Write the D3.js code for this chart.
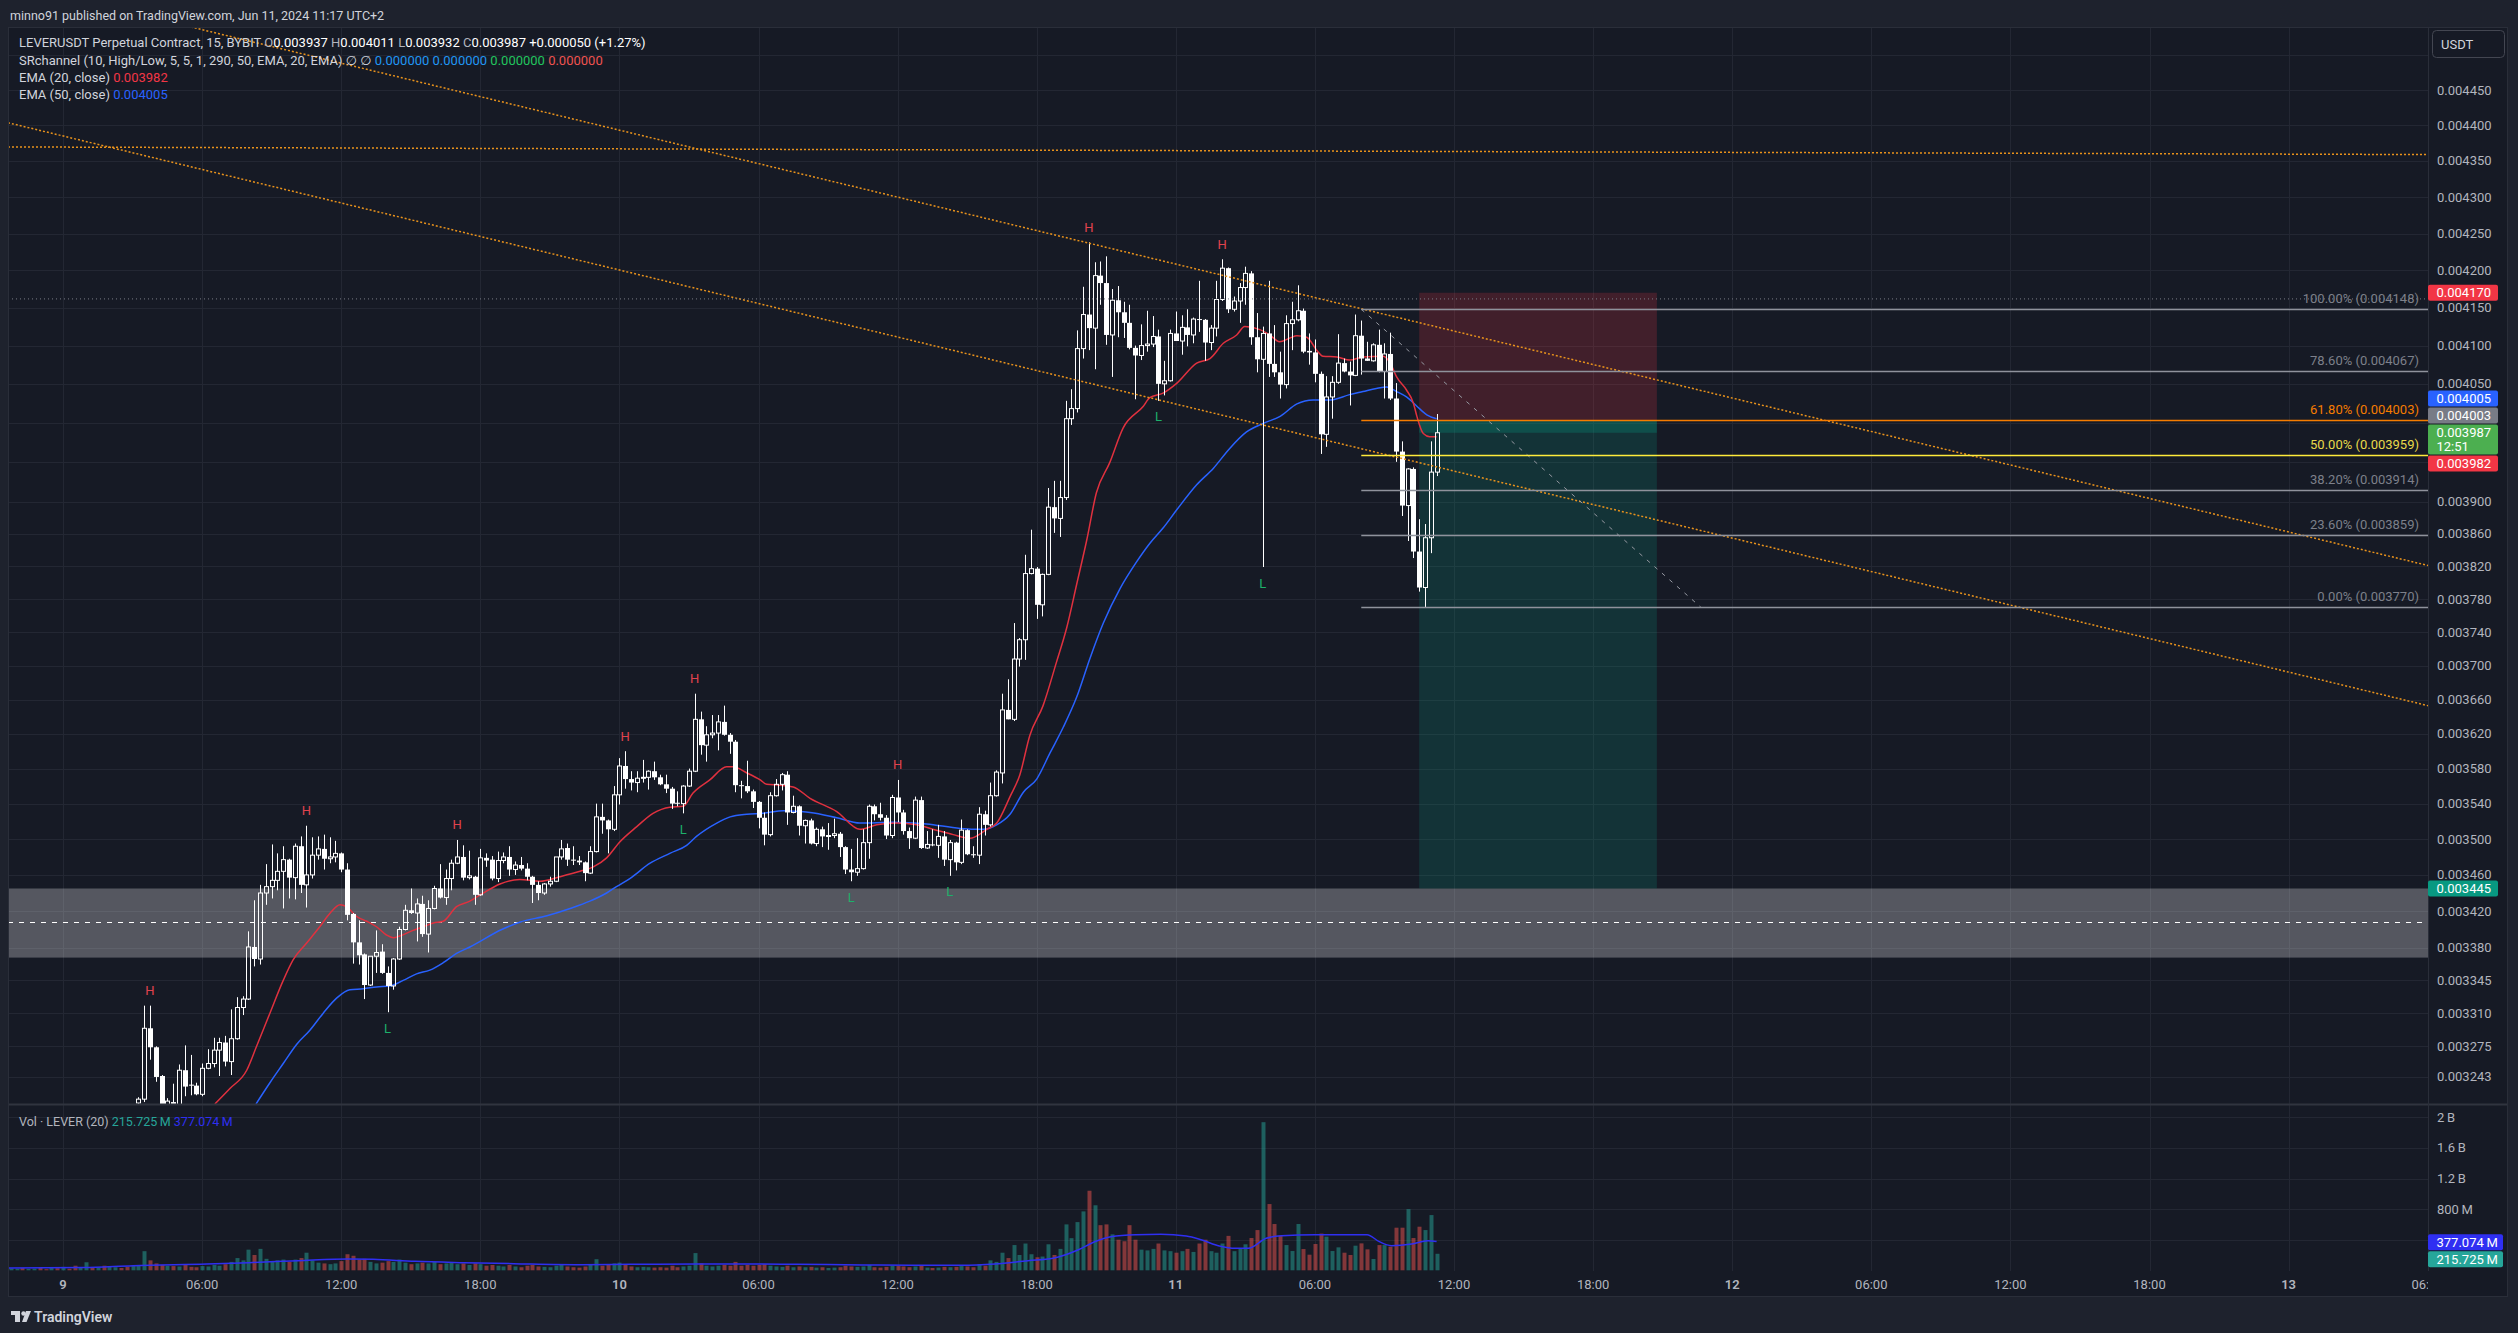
<!DOCTYPE html>
<html>
<head>
<meta charset="utf-8">
<script src="https://cdn.jsdelivr.net/npm/d3@7/dist/d3.min.js"></script>
<style>
html,body{margin:0;padding:0;background:#1e222d;overflow:hidden;}
svg{display:block;}
text{font-family:Roboto,"Noto Sans","DejaVu Sans",sans-serif;}
</style>
</head>
<body>
<svg id="chart" width="2518" height="1333"></svg>
<script>
// ---------------- DATA ----------------
const PRICE_UNIT = 1e-6;          // prices below are in millionths of USDT
const firstCandleBar = 13;        // bar index (15-min bars counted from Jun 9 00:00 axis time)
const opens = [3216,3220,3294,3274,3244,3214,3217,3214,3250,3235,3234,3225,3252,3257,3271,3279,3259,3283,3316,3325,
3381,3368,3440,3447,3454,3464,3477,3457,3492,3449,3460,3482,3489,3478,3480,3484,3466,3417,3386,3373,
3340,3371,3376,3353,3339,3368,3400,3421,3418,3428,3395,3423,3445,3435,3456,3473,3480,3457,3458,3438,
3479,3477,3456,3476,3480,3466,3471,3467,3458,3449,3440,3450,3453,3480,3490,3477,3476,3474,3462,3486,
3525,3521,3511,3550,3583,3568,3564,3569,3570,3577,3570,3562,3557,3541,3540,3560,3577,3637,3607,3619,
3621,3634,3619,3611,3561,3560,3554,3542,3524,3505,3549,3562,3573,3530,3537,3515,3521,3495,3511,3503,
3504,3506,3491,3466,3463,3467,3496,3537,3528,3524,3504,3547,3530,3509,3501,3544,3490,3494,3493,3503,
3477,3496,3474,3510,3483,3482,3528,3516,3549,3575,3648,3637,3708,3731,3811,3817,3773,3810,3893,3879,
3905,4005,4018,4096,4141,4123,4193,4183,4114,4160,4144,4130,4097,4087,4100,4102,4112,4050,4054,4116,
4106,4124,4114,4135,4134,4104,4123,4161,4203,4148,4159,4177,4196,4111,4082,4116,4076,4065,4049,4129,
4134,4146,4093,4091,4063,3985,4033,4052,4077,4066,4061,4113,4083,4080,4101,4066,4089,4031,3963,3895,
3941,3838,3794,3855,3937];
const highs = [3222,3318,3318,3275,3245,3221,3236,3256,3276,3266,3237,3257,3272,3284,3284,3286,3314,3327,3328,3398,
3432,3449,3472,3494,3484,3492,3478,3495,3503,3515,3502,3503,3505,3502,3498,3485,3473,3418,3410,3374,
3371,3399,3384,3360,3369,3403,3427,3445,3434,3437,3432,3448,3472,3466,3477,3499,3493,3487,3459,3489,
3484,3481,3486,3485,3492,3475,3480,3473,3459,3453,3451,3458,3480,3499,3495,3492,3481,3475,3492,3540,
3540,3522,3560,3592,3600,3577,3577,3590,3578,3588,3573,3573,3559,3554,3561,3580,3667,3646,3629,3642,
3642,3653,3621,3613,3566,3589,3556,3543,3530,3553,3568,3575,3577,3549,3538,3522,3523,3513,3514,3518,
3523,3508,3492,3489,3501,3511,3539,3539,3541,3527,3550,3567,3533,3513,3548,3548,3509,3511,3516,3509,
3499,3497,3522,3511,3492,3536,3532,3564,3578,3667,3684,3751,3733,3834,3865,3819,3811,3917,3926,3926,
4028,4043,4120,4178,4238,4211,4212,4219,4175,4179,4158,4154,4100,4128,4146,4139,4121,4080,4121,4145,
4140,4148,4137,4186,4135,4127,4186,4215,4204,4165,4183,4205,4199,4143,4125,4186,4127,4092,4140,4158,
4180,4149,4116,4108,4066,4060,4060,4115,4083,4079,4141,4133,4105,4103,4121,4103,4117,4051,3976,3942,
3943,3878,3872,3976,4011];
const lows = [3212,3217,3261,3238,3198,3208,3210,3208,3223,3224,3224,3223,3251,3253,3244,3254,3245,3282,3308,3324,
3360,3362,3427,3434,3443,3423,3434,3433,3440,3424,3456,3477,3466,3473,3474,3463,3410,3363,3362,3325,
3339,3353,3352,3311,3335,3367,3399,3417,3387,3392,3375,3422,3434,3427,3443,3472,3454,3455,3427,3437,
3469,3454,3452,3473,3459,3460,3465,3454,3429,3432,3438,3447,3452,3477,3470,3471,3471,3453,3461,3485,
3506,3484,3509,3539,3557,3555,3553,3564,3556,3567,3561,3552,3534,3537,3529,3559,3576,3596,3588,3615,
3601,3618,3597,3553,3546,3552,3535,3512,3493,3503,3548,3555,3516,3529,3504,3495,3494,3492,3491,3488,
3501,3480,3461,3453,3459,3466,3478,3521,3521,3500,3501,3519,3505,3489,3500,3489,3489,3492,3479,3470,
3459,3465,3472,3482,3479,3472,3504,3514,3548,3563,3637,3635,3699,3707,3810,3756,3759,3809,3861,3856,
3902,3997,4013,4083,4094,4069,4154,4101,4059,4111,4110,4095,4030,4081,4092,4098,4028,4035,4053,4106,
4088,4099,4103,4118,4080,4094,4112,4159,4143,4145,4130,4154,4101,4065,3819,4059,4059,4031,4044,4094,
4132,4090,4075,4052,3960,3969,4005,4050,4065,4022,4060,4062,4080,4079,4065,4031,4029,3950,3882,3851,
3830,3789,3770,3836,3932];
const closes = [3220,3294,3274,3243,3214,3218,3215,3250,3233,3234,3225,3252,3257,3271,3279,3259,3283,3316,3325,3381,
3368,3440,3447,3454,3464,3477,3457,3492,3449,3460,3482,3489,3478,3480,3484,3466,3416,3386,3372,3340,
3371,3375,3353,3339,3368,3400,3421,3418,3428,3395,3423,3445,3435,3456,3473,3480,3457,3459,3438,3479,
3476,3456,3476,3480,3466,3471,3467,3458,3449,3440,3450,3453,3480,3489,3477,3476,3474,3462,3486,3525,
3521,3511,3550,3583,3568,3564,3569,3570,3577,3570,3562,3557,3540,3540,3560,3577,3637,3607,3619,3621,
3634,3619,3611,3561,3560,3554,3542,3524,3505,3549,3562,3573,3530,3537,3515,3521,3495,3511,3503,3504,
3506,3491,3466,3463,3467,3496,3537,3528,3524,3504,3547,3530,3509,3501,3544,3490,3494,3493,3503,3477,
3496,3474,3510,3483,3482,3528,3516,3549,3576,3648,3637,3708,3731,3811,3817,3773,3810,3893,3879,3905,
4005,4018,4096,4141,4123,4193,4183,4114,4160,4144,4130,4097,4087,4100,4102,4112,4050,4054,4116,4106,
4124,4114,4135,4134,4104,4123,4161,4203,4148,4159,4177,4196,4111,4082,4116,4076,4065,4049,4129,4134,
4146,4092,4091,4063,3985,4033,4052,4077,4066,4061,4113,4083,4080,4101,4066,4089,4031,3963,3895,3941,
3838,3794,3855,3937,3987];

const firstVolumeBar = -9;
const volumesM = [25,20,30,18,22,30,15,35,28,45,20,60,30,105,40,35,60,55,40,30,45,60,
70,250,130,90,70,60,55,50,80,45,40,55,50,70,60,80,110,160,
130,270,200,280,150,120,130,140,110,140,160,230,130,100,90,80,90,120,210,190,
140,150,110,90,100,120,110,140,100,80,90,100,90,110,80,90,100,80,90,70,
90,80,60,70,60,50,70,50,40,60,70,50,45,40,60,70,50,40,35,50,
80,145,60,70,90,100,80,50,40,45,40,35,40,35,60,40,50,60,225,90,
60,50,60,70,60,110,60,70,60,70,80,60,50,45,60,40,50,40,45,35,
40,30,35,40,60,50,45,50,70,40,35,45,60,55,50,40,50,60,35,30,
35,45,40,45,55,50,40,80,60,130,110,230,160,330,200,350,210,170,180,340,
200,280,600,420,630,770,1040,850,590,600,470,400,380,590,400,270,260,280,350,260,
250,230,250,280,240,350,400,250,230,350,450,250,290,340,422,526,1936,866,605,452,
330,252,605,278,204,344,480,440,252,300,230,200,322,352,274,148,330,330,309,557,
557,800,422,570,526,722,216];
const earlyVolumeUp = [1,1,0,1,1,0,0,1,0,1,0,0,1,1,0,1,0,1,1,0,0,1];   // bars -9..12

const volMaBars = [-9.5,3.5,12.1,24.8,32.1,40.6,49.2,53.5,60.7,69.2,77.8,89.2,97.8,109.4,117.8,126.5,137.9,146.5,155.1,160.8,
166.5,170.8,175.1,178,180.8,185.1,189.4,193.8,196.5,199.5,202.3,204.5,207.6,210.3,216,221.5,225,227.1,229.2,232.7,235.5,237];
const volMaM = [30,35,61,83,100,126,148,143,117,100,87,74,78,83,83,78,70,65,65,83,
126,157,265,374,439,465,470,448,396,318,287,287,418,452,465,465,465,374,322,344,387,377];

const ema20Bars = [26.2,28.8,31.7,33.4,35.7,38.0,39.7,42.0,44.3,46.1,47.8,48.9,50.7,52.4,54.1,55.8,57.0,58.1,60.4,62.2,
63.9,65.6,67.9,70.2,72.5,75.4,78.8,82.3,85.7,89.2,91.5,93.8,96.1,99.0,101.8,104.7,107.0,108.7,111.6,114.5,
115.6,118.0,120.3,121.4,123.7,126.0,128.9,133.5,137.5,140.4,143.8,147.3,150.7,153.6,156.5,159.4,161.1,163.4,165.1,166.8,
169.1,171.4,173.2,174.9,176.6,178.3,180.6,182.9,186.4,187.5,189.8,192.2,195.6,197.9,200.2,202.5,203.9,206.5,208.2,209.9,
211.7,212.9,214.6,216.3,217.4,219.8,222.0,224.3,227.8,229.0,230.1,231.8,233.0,233.6,234.7,235.8,237];
const ema20 = [3215,3231,3250,3275,3310,3345,3367,3385,3403,3418,3427,3425,3414,3409,3403,3394,3391,3393,3399,3403,
3407,3409,3425,3431,3440,3450,3455,3453,3458,3464,3469,3479,3497,3514,3529,3536,3537,3552,3567,3582,
3582,3575,3567,3562,3561,3559,3546,3531,3511,3516,3518,3516,3510,3505,3501,3511,3518,3548,3573,3618,
3653,3704,3746,3798,3851,3911,3949,3993,4021,4032,4038,4051,4077,4083,4103,4114,4125,4121,4114,4105,
4110,4113,4111,4094,4086,4085,4081,4085,4086,4077,4059,4042,4025,4008,3986,3982,3982];
const ema50Bars = [33.3,35.7,38.0,40.3,42.6,44.9,47.2,49.5,51.8,54.1,56.4,58.7,61.0,63.3,65.6,67.9,70.2,75.7,78.8,83.5,
87.5,90.9,93.8,95.5,97.8,101.3,104.7,107.6,109.3,112.8,115.1,118.0,120.8,124.3,127.2,128.9,133.5,137.5,143.3,149.0,
154.8,158.8,161.1,163.4,165.7,168.0,170.3,172.6,174.9,177.2,179.5,182.4,185.2,187.5,189.8,192.2,195.6,198.5,201.3,204.2,
207.1,210.0,212.9,215.7,218.6,222.0,224.3,226.6,228.4,230.1,231.8,233.6,235.3,237];
const ema50 = [3215,3237,3257,3277,3292,3310,3326,3335,3336,3338,3339,3345,3352,3356,3364,3374,3381,3400,3408,3415,
3423,3431,3440,3447,3456,3473,3484,3493,3503,3518,3525,3528,3529,3532,3531,3530,3524,3518,3519,3517,
3512,3511,3516,3528,3553,3568,3598,3628,3663,3709,3751,3793,3825,3848,3867,3890,3921,3942,3967,3988,
3999,4008,4024,4029,4029,4036,4040,4044,4046,4040,4033,4021,4010,4005];

const pivotHighBars = [15,42,68,97,109,144,177,200];
const pivotLowBars = [56,107,136,153,189,207];

const priceTicks = [0.0045,0.00445,0.0044,0.00435,0.0043,0.00425,0.0042,0.00415,0.0041,0.00405,0.004,0.00395,0.0039,
0.00386,0.00382,0.00378,0.00374,0.0037,0.00366,0.00362,0.00358,0.00354,0.0035,0.00346,0.00342,0.00338,0.003345,0.00331,0.003275,0.003243];
const volumeTicks = [2e9,1.6e9,1.2e9,8e8,4e8];
const volumeTickLabels = ["2\u2009B","1.6\u2009B","1.2\u2009B","800\u2009M","400\u2009M"];

const fibLabels = ["100.00%","78.60%","61.80%","50.00%","38.20%","23.60%","0.00%"];
const fibPrices = [0.004148,0.004067,0.004003,0.003959,0.003914,0.003859,0.003770];
const fibAnchorBars = [224,282.6];

const srChannel = [0.003445,0.0033695,0.003408];          // top, bottom, middle
const positionBars = [234,275];
const positionPrices = [0.00417,0.004003,0.003445,0.003987]; // stop, entry, target, current
const trendA = {bars:[24,336], prices:[0.004537,0.003946]};
const trendB = {bars:[0,336], prices:[0.004385,0.0037727]};
const trendC = {bars:[-9,236.6], prices:[0.0043696,0.0043633]};
const dottedLevel = 0.0041618;

const tags = [
  {p:0.004170, text:"0.004170", bg:"#f23645"},
  {p:0.004005, text:"0.004005", bg:"#2962ff"},
  {p:0.004003, text:"0.004003", bg:"#787b86"},
  {p:0.003987, text:"0.003987", sub:"12:51", bg:"#4caf50"},
  {p:0.003982, text:"0.003982", bg:"#f23645"},
  {p:0.003445, text:"0.003445", bg:"#089981"}
];
const volTags = [
  {v:377.074e6, text:"377.074\u2009M", bg:"#2f2ff2"},
  {v:215.725e6, text:"215.725\u2009M", bg:"#26a69a"}
];

// ---------------- LAYOUT ----------------
const L = 8, R = 2428, T = 27, PB = 1104, VB = 1271, AR = 2508, FB = 1297;
const X0 = Date.UTC(2024,5,9);
const x = d3.scaleUtc().domain([new Date(X0), new Date(Date.UTC(2024,5,13))]).range([63, 2288.6]);
const barX = i => x(new Date(X0 + i*900000));
const y = d3.scaleLog().domain([0.003215, 0.0045409]).range([PB, T]);
const yv = d3.scaleLinear().domain([0, 2e9]).range([1270.3, 1117.3]);

const svg = d3.select("#chart");
const defs = svg.append("defs");
defs.append("clipPath").attr("id","cp").append("rect").attr("x",L).attr("y",T).attr("width",R-L).attr("height",PB-T);
defs.append("clipPath").attr("id","cv").append("rect").attr("x",L).attr("y",PB).attr("width",R-L).attr("height",VB-PB);
defs.append("clipPath").attr("id","ct").append("rect").attr("x",L).attr("y",VB).attr("width",R-L).attr("height",FB-VB);

svg.append("rect").attr("width",2518).attr("height",1333).attr("fill","#1e222d");
svg.append("rect").attr("x",L).attr("y",T).attr("width",AR-L).attr("height",FB-T).attr("fill","#161a25");

// grid
const grid = svg.append("g").attr("stroke","#232733").attr("stroke-width",1);
const gp = grid.append("g").attr("clip-path","url(#cp)");
priceTicks.forEach(p=>{const yy=Math.round(y(p))+0.5; gp.append("line").attr("x1",L).attr("x2",R).attr("y1",yy).attr("y2",yy);});
const timeTicks = d3.range(0,18).map(k=>new Date(X0 + k*6*3600000));
timeTicks.forEach(t=>{const xx=Math.round(x(t))+0.5; grid.append("line").attr("x1",xx).attr("x2",xx).attr("y1",T).attr("y2",VB).attr("clip-path","url(#cp)");
  grid.append("line").attr("x1",xx).attr("x2",xx).attr("y1",PB).attr("y2",VB).attr("clip-path","url(#cv)");});
volumeTicks.forEach(v=>{const yy=Math.round(yv(v))+0.5; grid.append("line").attr("x1",L).attr("x2",R).attr("y1",yy).attr("y2",yy);});

// SR channel band
const pane = svg.append("g").attr("clip-path","url(#cp)");
pane.append("rect").attr("x",L).attr("width",R-L).attr("y",y(srChannel[0])).attr("height",y(srChannel[1])-y(srChannel[0])).attr("fill","rgba(255,255,255,0.27)");
pane.append("line").attr("x1",L).attr("x2",R).attr("y1",Math.round(y(srChannel[2]))+0.5).attr("y2",Math.round(y(srChannel[2]))+0.5)
  .attr("stroke","#ffffff").attr("stroke-width",1).attr("stroke-dasharray","5,6");

// position tool
const px1 = barX(positionBars[0]), px2 = barX(positionBars[1]);
pane.append("rect").attr("x",px1).attr("width",px2-px1).attr("y",y(positionPrices[0])).attr("height",y(positionPrices[1])-y(positionPrices[0])).attr("fill","rgba(242,54,69,0.2)");
pane.append("rect").attr("x",px1).attr("width",px2-px1).attr("y",y(positionPrices[1])).attr("height",y(positionPrices[2])-y(positionPrices[1])).attr("fill","rgba(8,153,129,0.2)");
pane.append("rect").attr("x",px1).attr("width",px2-px1).attr("y",y(positionPrices[1])).attr("height",y(positionPrices[3])-y(positionPrices[1])).attr("fill","rgba(8,153,129,0.28)");

// volume
const vg = svg.append("g").attr("clip-path","url(#cv)");
volumesM.forEach((v,k)=>{
  const i = firstVolumeBar + k;
  let up;
  if (i < firstCandleBar) up = earlyVolumeUp[k] === 1; else { const c=i-firstCandleBar; up = closes[c] >= opens[c]; }
  const cx = Math.round(barX(i));
  const top = yv(v*1e6);
  vg.append("rect").attr("x",cx-1.5).attr("width",4).attr("y",top).attr("height",yv(0)-top)
    .attr("fill", up ? "rgba(38,166,154,0.5)" : "rgba(239,83,80,0.5)");
});
vg.append("path").datum(volMaBars.map((b,k)=>[barX(b), yv(volMaM[k]*1e6)]))
  .attr("d", d3.line().curve(d3.curveMonotoneX)).attr("fill","none").attr("stroke","#2f2ff2").attr("stroke-width",1.5);

// EMAs
const emaLine = d3.line().curve(d3.curveMonotoneX);
pane.append("path").datum(ema50Bars.map((b,k)=>[barX(b), y(ema50[k]*PRICE_UNIT)])).attr("d",emaLine).attr("fill","none").attr("stroke","#2962ff").attr("stroke-width",1.5);
pane.append("path").datum(ema20Bars.map((b,k)=>[barX(b), y(ema20[k]*PRICE_UNIT)])).attr("d",emaLine).attr("fill","none").attr("stroke","#e0313f").attr("stroke-width",1.5);

// candles
const cg = pane.append("g");
opens.forEach((o,k)=>{
  const i = firstCandleBar + k;
  const O=o*PRICE_UNIT, Hh=highs[k]*PRICE_UNIT, Ll=lows[k]*PRICE_UNIT, C=closes[k]*PRICE_UNIT;
  const cx = Math.round(barX(i));
  const yo=y(O), yc=y(C), yh=y(Hh), yl=y(Ll);
  const bt=Math.min(yo,yc), bb=Math.max(yo,yc);
  if (C >= O) {
    cg.append("line").attr("x1",cx+0.5).attr("x2",cx+0.5).attr("y1",yh).attr("y2",bt).attr("stroke","#fff").attr("stroke-width",1);
    cg.append("line").attr("x1",cx+0.5).attr("x2",cx+0.5).attr("y1",bb).attr("y2",yl).attr("stroke","#fff").attr("stroke-width",1);
    cg.append("rect").attr("x",cx-1.5).attr("width",4).attr("y",bt).attr("height",Math.max(1,bb-bt)).attr("fill","none").attr("stroke","#fff").attr("stroke-width",1);
  } else {
    cg.append("line").attr("x1",cx+0.5).attr("x2",cx+0.5).attr("y1",yh).attr("y2",yl).attr("stroke","#fff").attr("stroke-width",1);
    cg.append("rect").attr("x",cx-2).attr("width",5).attr("y",bt).attr("height",Math.max(1,bb-bt)).attr("fill","#fff");
  }
});

// trend lines
function extended(tl){
  const xa=barX(tl.bars[0]), xb=barX(tl.bars[1]), ya=y(tl.prices[0]), yb=y(tl.prices[1]);
  const s=(yb-ya)/(xb-xa);
  return [[L, ya+s*(L-xa)],[R, ya+s*(R-xa)]];
}
[trendA,trendB,trendC].forEach(tl=>{
  pane.append("path").datum(extended(tl)).attr("d",d3.line()).attr("fill","none").attr("stroke","#e8921c").attr("stroke-width",1.5).attr("stroke-dasharray","2,2");
});
pane.append("line").attr("x1",L).attr("x2",R).attr("y1",y(dottedLevel)).attr("y2",y(dottedLevel)).attr("stroke","#787b86").attr("stroke-width",1).attr("stroke-dasharray","1,3");

// fib retracement
const fibColors = ["#8f929c","#8f929c","#f57c00","#ffeb3b","#8f929c","#8f929c","#8f929c"];
const fibText = ["#7d808a","#7d808a","#f57c00","#e9d94a","#7d808a","#7d808a","#7d808a"];
const fx = barX(fibAnchorBars[0]);
pane.append("line").attr("x1",fx).attr("y1",y(fibPrices[0])).attr("x2",barX(fibAnchorBars[1])).attr("y2",y(fibPrices[6]))
  .attr("stroke","#9598a1").attr("stroke-width",1).attr("stroke-dasharray","4,6");
fibPrices.forEach((p,k)=>{
  const yy=Math.round(y(p))+0.5;
  pane.append("line").attr("x1",fx).attr("x2",R).attr("y1",yy).attr("y2",yy).attr("stroke",fibColors[k]).attr("stroke-width",1.5);
  pane.append("text").attr("x",2419).attr("y",yy-7).attr("text-anchor","end").attr("font-size",13).attr("fill",fibText[k])
    .text(fibLabels[k]+" ("+p.toFixed(6)+")");
});

// pivots
pivotHighBars.forEach(i=>{const k=i-firstCandleBar;
  pane.append("text").attr("x",barX(i)).attr("y",y(highs[k]*PRICE_UNIT)-15+4.5).attr("text-anchor","middle").attr("font-size",13).attr("fill","#e0434e").text("H");});
pivotLowBars.forEach(i=>{const k=i-firstCandleBar;
  pane.append("text").attr("x",barX(i)).attr("y",y(lows[k]*PRICE_UNIT)+16+4.5).attr("text-anchor","middle").attr("font-size",13).attr("fill","#1db06a").text("L");});

// frame lines
const fr = svg.append("g").attr("stroke","#2a2e39").attr("stroke-width",1);
fr.append("line").attr("x1",L).attr("x2",AR).attr("y1",PB+0.5).attr("y2",PB+0.5).attr("stroke","#30343f").attr("stroke-width",2);
fr.append("line").attr("x1",R+0.5).attr("x2",R+0.5).attr("y1",T).attr("y2",VB);
fr.append("rect").attr("x",L+0.5).attr("y",T+0.5).attr("width",AR-L-1).attr("height",FB-T-1).attr("fill","none");

// tag layout (price-axis markers push each other apart, like the platform does)
function layoutTags(list, ypos){
  const items = list.map(t=>({t, c:ypos(t), h:t.sub?30:16})).sort((a,b)=>a.c-b.c);
  const groups=[];
  items.forEach(it=>{
    const g = groups[groups.length-1];
    if (g) { const bottom = g.top + g.h; if (it.c - it.h/2 < bottom + 1) { g.items.push(it); g.h += it.h+1; g.sum += it.c*it.h; g.w += it.h; return; } }
    groups.push({items:[it], top:it.c-it.h/2, h:it.h, sum:it.c*it.h, w:it.h});
  });
  groups.forEach(g=>{
    if (g.items.length>1){ const mean=g.sum/g.w; g.top = mean - g.h/2 + 3; }
    let cur=g.top; g.items.forEach(it=>{it.top=cur; cur+=it.h+1;});
  });
  return items;
}
const priceTagItems = layoutTags(tags, t=>y(t.p));
const volTagItems = layoutTags(volTags, t=>yv(t.v));
const covered = (yy, items) => items.some(it => yy+5 > it.top && yy-5 < it.top+it.h);

// price axis labels (hidden where a marker covers them, or under the currency box)
const ax = svg.append("g").attr("font-size",13).attr("fill","#b2b5be");
priceTicks.forEach(p=>{const yy=y(p); if(yy>66 && !covered(yy, priceTagItems)) ax.append("text").attr("x",2437).attr("y",yy+4.5).text(p.toFixed(6));});
volumeTicks.forEach((v,k)=>{ const yy=yv(v); if(!covered(yy, volTagItems)) ax.append("text").attr("x",2437).attr("y",yy+4.5).text(volumeTickLabels[k]);});
// time labels
const tg = svg.append("g").attr("clip-path","url(#ct)").attr("font-size",13).attr("fill","#b2b5be").attr("text-anchor","middle");
timeTicks.forEach(t=>{
  const h=t.getUTCHours();
  const lab = h===0 ? String(t.getUTCDate()) : d3.utcFormat("%H:%M")(t);
  tg.append("text").attr("x",x(t)).attr("y",1288.5).attr("font-weight",h===0?600:400).text(lab);
});

// USDT box
svg.append("rect").attr("x",2432.5).attr("y",30.5).attr("width",72).attr("height",27).attr("rx",4).attr("fill","#161a25").attr("stroke","#434651");
svg.append("text").attr("x",2441).attr("y",48.5).attr("font-size",13).attr("fill","#d1d4dc").text("USDT");

priceTagItems.forEach(it=>{
  svg.append("rect").attr("x",2428).attr("y",it.top).attr("width",70).attr("height",it.h).attr("rx",2).attr("fill",it.t.bg);
  svg.append("text").attr("x",2436.5).attr("y",it.top+12.5).attr("font-size",13).attr("fill","#fff").text(it.t.text);
  if (it.t.sub) svg.append("text").attr("x",2436.5).attr("y",it.top+26.5).attr("font-size",13).attr("fill","#fff").text(it.t.sub);
});
volTagItems.forEach(it=>{
  svg.append("rect").attr("x",2428).attr("y",it.top).attr("width",75).attr("height",it.h).attr("rx",2).attr("fill",it.t.bg);
  svg.append("text").attr("x",2436.5).attr("y",it.top+12.5).attr("font-size",13).attr("fill","#fff").text(it.t.text);
});

// legends
svg.append("text").attr("x",10).attr("y",20).attr("font-size",12.5).attr("fill","#d1d4dc").text("minno91 published on TradingView.com, Jun 11, 2024 11:17 UTC+2");
const lg = svg.append("g").attr("font-size",13);
const l1 = lg.append("text").attr("x",19).attr("y",47);
l1.append("tspan").attr("fill","#d1d4dc").text("LEVERUSDT Perpetual Contract, 15, BYBIT  ");
[["O","0.003937"],["H","0.004011"],["L","0.003932"],["C","0.003987"]].forEach(([a,b])=>{
  l1.append("tspan").attr("fill","#b2b5be").text(a); l1.append("tspan").attr("fill","#ffffff").text(b+"  ");});
l1.append("tspan").attr("fill","#ffffff").text("+0.000050 (+1.27%)");
const l2 = lg.append("text").attr("x",19).attr("y",64.5);
l2.append("tspan").attr("fill","#d1d4dc").text("SRchannel (10, High/Low, 5, 5, 1, 290, 50, EMA, 20, EMA)  \u2205  \u2205  ");
[["0.000000","#2196f3"],["0.000000","#2196f3"],["0.000000","#22c55e"],["0.000000","#ef5350"]].forEach(([t,c])=>l2.append("tspan").attr("fill",c).text(t+"  "));
const l3 = lg.append("text").attr("x",19).attr("y",81.5);
l3.append("tspan").attr("fill","#d1d4dc").text("EMA (20, close)  "); l3.append("tspan").attr("fill","#f23645").text("0.003982");
const l4 = lg.append("text").attr("x",19).attr("y",98.5);
l4.append("tspan").attr("fill","#d1d4dc").text("EMA (50, close)  "); l4.append("tspan").attr("fill","#2962ff").text("0.004005");
const l5 = lg.append("text").attr("x",19).attr("y",1125.5).attr("font-size",12.5);
l5.append("tspan").attr("fill","#b2b5be").text("Vol \u00b7 LEVER (20)  ");
l5.append("tspan").attr("fill","#26a69a").text("215.725\u2009M  ");
l5.append("tspan").attr("fill","#2f2ff2").text("377.074\u2009M");

// TradingView logo
const logo = svg.append("g").attr("fill","#d1d4dc");
logo.append("rect").attr("x",11).attr("y",1311).attr("width",9).attr("height",4);
logo.append("rect").attr("x",15).attr("y",1311).attr("width",5).attr("height",11);
logo.append("circle").attr("cx",23.5).attr("cy",1313.5).attr("r",2.2);
logo.append("path").attr("d","M26,1311 L31,1311 L26.5,1322 L22,1322 Z");
svg.append("text").attr("x",34).attr("y",1321.5).attr("font-size",14).attr("font-weight",600).attr("fill","#d1d4dc").text("TradingView");
</script>
</body>
</html>
